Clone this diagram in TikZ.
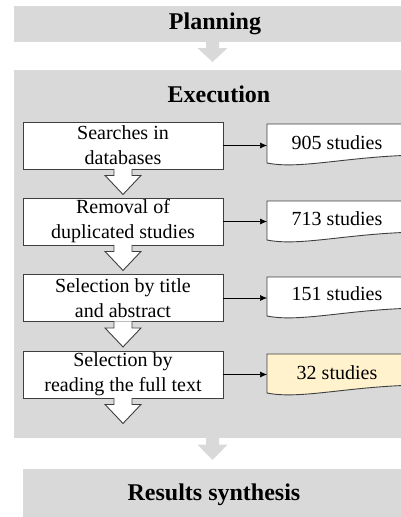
\documentclass[tikz,border=0pt]{standalone}
\usepackage{fontspec}
\setmainfont{Liberation Serif}
\usetikzlibrary{arrows.meta,calc}

\definecolor{panelgray}{HTML}{D9D9D9}
\definecolor{edgegray}{HTML}{3F3F3F}
\definecolor{resultyellow}{HTML}{FFF2CC}

\tikzset{
  phase/.style={fill=panelgray, draw=none, inner sep=0pt},
  phasetext/.style={font=\fontsize{24}{28}\selectfont\bfseries, inner sep=0pt},
  stepbox/.style={draw=edgegray, fill=white, line width=0.9pt,
    minimum width=200pt, minimum height=47pt, inner sep=0pt,
    align=center, font=\fontsize{20}{25}\selectfont},
  doctext/.style={font=\fontsize{20}{24}\selectfont, inner sep=0pt},
  docline/.style={draw=edgegray, line width=0.9pt},
  link/.style={draw=black, line width=0.6pt, -{Latex[length=7pt,width=6pt]}},
  hollow/.style={draw=edgegray, fill=white, line width=0.9pt, line join=miter},
  grayarrow/.style={fill=panelgray, draw=none},
}

% document-shaped outline with a wavy lower edge, anchored at its top-left corner
\newcommand\docoutline[2]{%
  \draw[docline, fill=#2]
    (#1) -- ($(#1)+(160,0)$) -- ($(#1)+(160,31)$)
    .. controls ($(#1)+(85,31)$) and ($(#1)+(35,46)$) .. ($(#1)+(0,39)$) -- cycle;}

% hollow down arrow between two steps
\newcommand\hollowarrow[1]{%
  \draw[hollow] ($(#1.south)+(-9,-0.5)$) -- ($(#1.south)+(-9,6)$) -- ($(#1.south)+(-18,6)$)
    -- ($(#1.south)+(0,25)$) -- ($(#1.south)+(18,6)$) -- ($(#1.south)+(9,6)$)
    -- ($(#1.south)+(9,-0.5)$);}

% solid gray down arrow between phases
\newcommand\grayarrow[2]{%
  \fill[grayarrow] ($(#1)+(-6.5,0)$) -- ($(#1)+(-6.5,#2*0.3)$) -- ($(#1)+(-15,#2*0.3)$)
    -- ($(#1)+(0,#2)$) -- ($(#1)+(15,#2*0.3)$) -- ($(#1)+(6.5,#2*0.3)$) -- ($(#1)+(6.5,0)$) -- cycle;}

\begin{document}
\begin{tikzpicture}[x=1pt, y=-1pt]
\useasboundingbox (0,0) rectangle (401,517);
\clip (0,0) rectangle (401,517);
\fill[white] (0,0) rectangle (401,517);

% phases
\node[phase, minimum width=402pt, minimum height=36pt] (planning) at (215,24) {};
\node[phasetext] (planningtext) at (215,24) {Planning};

\node[phase, minimum width=402pt, minimum height=368pt] (execution) at (215,254) {};
\node[phasetext] (executiontext) at (219,94) {Execution};

\node[phase, minimum width=384pt, minimum height=52pt] (results) at (215,495) {};
\node[phasetext] (resultstext) at (214,495) {Results synthesis};

\coordinate (pa) at (212.5,42);
\coordinate (ra) at (212.5,438);
\grayarrow{pa}{20}
\grayarrow{ra}{22}

% steps
\node[stepbox] (s1) at (123,145.5) {Searches in\\databases};
\node[stepbox] (s2) at (123,221.5) {Removal of\\duplicated studies};
\node[stepbox] (s3) at (123,298) {Selection by title\\and abstract};
\node[stepbox] (s4) at (123,374.5) {Selection by\\reading the full text};

\hollowarrow{s1}
\hollowarrow{s2}
\hollowarrow{s3}
\hollowarrow{s4}

% study counts
\coordinate (d1) at (267,124);
\coordinate (d2) at (267,201);
\coordinate (d3) at (267,277);
\coordinate (d4) at (267,354);
\docoutline{d1}{white}
\docoutline{d2}{white}
\docoutline{d3}{white}
\docoutline{d4}{resultyellow}
\node[doctext] (n1) at ($(d1)+(70,19)$) {905 studies};
\node[doctext] (n2) at ($(d2)+(70,18)$) {713 studies};
\node[doctext] (n3) at ($(d3)+(70,17)$) {151 studies};
\node[doctext] (n4) at ($(d4)+(70,19)$) {32 studies};

\draw[link] (s1.east) -- (s1.east -| d1);
\draw[link] (s2.east) -- (s2.east -| d2);
\draw[link] (s3.east) -- (s3.east -| d3);
\draw[link] (s4.east) -- (s4.east -| d4);
\end{tikzpicture}
\end{document}
